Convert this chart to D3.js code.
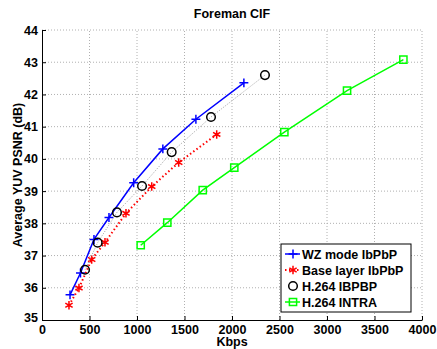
<!DOCTYPE html>
<html>
<head>
<meta charset="utf-8">
<script src="https://cdn.jsdelivr.net/npm/d3@7"></script>
<style>
  body { margin: 0; background: #fff; }
  text { font-family: "Liberation Sans", Arial, sans-serif; font-weight: bold; }
</style>
</head>
<body>
<div id="rootDiv"></div>
<script>
// data
const wzRate = [295, 405, 547, 705, 965, 1272, 1620, 2125]
const wzPsnr = [35.78, 36.46, 37.5, 38.18, 39.26, 40.31, 41.23, 42.36]

const baseRate = [284, 389, 523, 663, 884, 1155, 1439, 1839]
const basePsnr = [35.46, 35.99, 36.88, 37.41, 38.31, 39.14, 39.89, 40.76]

const ibpRate = [453, 586, 789, 1053, 1365, 1779, 2347]
const ibpPsnr = [36.56, 37.4, 38.34, 39.16, 40.21, 41.3, 42.6]

const intraRate = [1039, 1319, 1692, 2024, 2551, 3211, 3804]
const intraPsnr = [37.32, 38.02, 39.03, 39.73, 40.83, 42.12, 43.08]

const xTicks = [0, 500, 1000, 1500, 2000, 2500, 3000, 3500, 4000]
const yTicks = [35, 36, 37, 38, 39, 40, 41, 42, 43, 44]

const width = 437
const height = 349
const margin = { top: 30, right: 15, bottom: 29, left: 42 }

const svg = d3.select(document.getElementById("rootDiv"))
    .append("svg")
    .attr("width", width)
    .attr("height", height)

const x = d3.scaleLinear()
    .domain([0, 4000])
    .range([margin.left, width - margin.right])

const y = d3.scaleLinear()
    .domain([35, 44])
    .range([height - margin.bottom, margin.top])

// grid
svg.append("g")
    .selectAll("line")
    .data(xTicks.slice(1))
    .enter()
    .append("line")
    .attr("x1", d => x(d)).attr("x2", d => x(d))
    .attr("y1", y(35)).attr("y2", y(44))
    .attr("stroke", "#b0b0b0")
    .attr("stroke-dasharray", "1,2")

svg.append("g")
    .selectAll("line")
    .data(yTicks.slice(1))
    .enter()
    .append("line")
    .attr("x1", x(0)).attr("x2", x(4000))
    .attr("y1", d => y(d)).attr("y2", d => y(d))
    .attr("stroke", "#b0b0b0")
    .attr("stroke-dasharray", "1,2")

// axes
const xAxis = svg.append("g")
    .attr("transform", `translate(0,${y(35)})`)
    .call(d3.axisBottom(x).tickValues(xTicks).tickFormat(d3.format("d"))
        .tickSize(-4).tickSizeOuter(0).tickPadding(6))

const yAxis = svg.append("g")
    .attr("transform", `translate(${x(0)},0)`)
    .call(d3.axisLeft(y).tickValues(yTicks).tickSize(-4).tickSizeOuter(0).tickPadding(4))

for (const axis of [xAxis, yAxis]) {
    axis.selectAll("line").style("stroke", "#000")
    axis.selectAll("path").style("stroke", "#000")
    axis.selectAll("text")
        .style("fill", "#000")
        .style("font-size", "12.5px")
        .style("font-family", "'Liberation Sans', Arial, sans-serif")
        .style("font-weight", "bold")
}
xAxis.selectAll("text").attr("dy", "0.6em")
yAxis.select(".tick text").attr("dy", "0.1em")

const series = [
    { name: "WZ mode IbPbP", rate: wzRate, psnr: wzPsnr, color: "#0000ff",
      line: "#0000ff", lw: 1.5, dash: null, sym: d3.symbolPlus, size: 28, sw: 1.5 },
    { name: "Base layer IbPbP", rate: baseRate, psnr: basePsnr, color: "#ff0000",
      line: "#ff0000", lw: 2, dash: "1.5,2.5", sym: d3.symbolAsterisk, size: 50, sw: 1.5 },
    { name: "H.264 IBPBP", rate: ibpRate, psnr: ibpPsnr, color: "#000000",
      line: "#a0a0a0", lw: 1, dash: "1,1.5", sym: d3.symbolCircle, size: 58, sw: 1.5 },
    { name: "H.264 INTRA", rate: intraRate, psnr: intraPsnr, color: "#00ff00",
      line: "#00ff00", lw: 1.5, dash: null, sym: d3.symbolSquare, size: 52, sw: 1.5 },
]

const line = d3.line()
    .x(d => x(d[0]))
    .y(d => y(d[1]))

for (const s of series) {
    const pts = d3.zip(s.rate, s.psnr)
    svg.append("path")
        .datum(pts)
        .attr("d", line)
        .attr("fill", "none")
        .attr("stroke", s.line)
        .attr("stroke-width", s.lw)
        .attr("stroke-dasharray", s.dash)

    svg.append("g")
        .selectAll("path")
        .data(pts)
        .enter()
        .append("path")
        .attr("transform", d => `translate(${x(d[0])},${y(d[1])})`)
        .attr("d", d3.symbol(s.sym, s.size))
        .attr("fill", "none")
        .attr("stroke", s.color)
        .attr("stroke-width", s.sw)
}

// legend
const legend = svg.append("g").attr("transform", "translate(281,244)")
legend.append("rect")
    .attr("width", 130)
    .attr("height", 68)
    .attr("fill", "#fff")
    .attr("stroke", "#000")
    .attr("stroke-width", 1)

series.forEach((s, i) => {
    const g = legend.append("g").attr("transform", `translate(0,${10 + i * 16})`)
    if (i !== 2) {
        g.append("line")
            .attr("x1", 4).attr("x2", 19)
            .attr("stroke", s.line)
            .attr("stroke-width", s.lw)
            .attr("stroke-dasharray", s.dash)
    }
    g.append("path")
        .attr("transform", "translate(12,0)")
        .attr("d", d3.symbol(s.sym, s.size))
        .attr("fill", "none")
        .attr("stroke", s.color)
        .attr("stroke-width", s.sw)
    g.append("text")
        .attr("x", 21)
        .attr("y", 4.5)
        .style("font-size", "12.5px")
        .attr("fill", "#000")
        .text(s.name)
})

// titles
svg.append("text")
    .attr("x", x(2000))
    .attr("y", 18)
    .attr("text-anchor", "middle")
    .style("font-size", "12.5px")
    .text("Foreman CIF")

svg.append("text")
    .attr("x", x(2000))
    .attr("y", 346)
    .attr("text-anchor", "middle")
    .style("font-size", "12.5px")
    .text("Kbps")

svg.append("text")
    .attr("transform", `translate(22,${y(39.5)}) rotate(-90)`)
    .attr("text-anchor", "middle")
    .style("font-size", "12.5px")
    .text("Average YUV PSNR (dB)")
</script>
</body>
</html>
